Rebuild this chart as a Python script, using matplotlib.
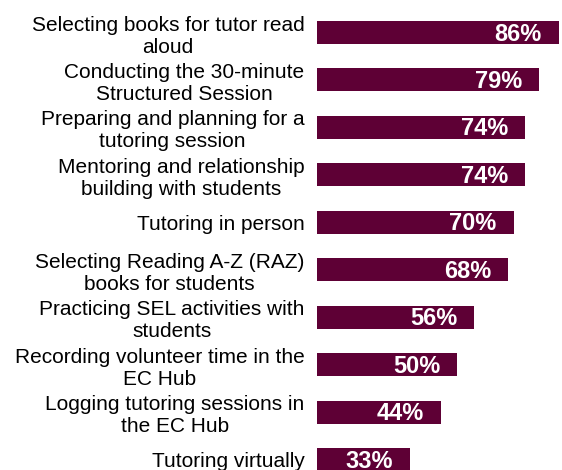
import matplotlib.pyplot as plt
from matplotlib.transforms import offset_copy

plt.rcParams['font.family'] = ['Liberation Sans', 'DejaVu Sans']

activities = [
    "Selecting books for tutor read\naloud",
    "Conducting the 30-minute\nStructured Session",
    "Preparing and planning for a\ntutoring session",
    "Mentoring and relationship\nbuilding with students",
    "Tutoring in person",
    "Selecting Reading A-Z (RAZ)\nbooks for students",
    "Practicing SEL activities with\nstudents",
    "Recording volunteer time in the\nEC Hub",
    "Logging tutoring sessions in\nthe EC Hub",
    "Tutoring virtually",
]
percents = [86, 79, 74, 74, 70, 68, 56, 50, 44, 33]

bar_color = '#5E0035'

fig = plt.figure(figsize=(5.62, 4.70), dpi=100)
ax = fig.add_axes([317 / 562, 0, 245 / 562, 1])

ypos = list(range(len(activities)))
bars = ax.barh(ypos, percents, height=0.485, color=bar_color)

ax.set_xlim(0, 87.2)
ax.set_ylim(9.22, -0.686)

ax.set_yticks(ypos)
ax.set_yticklabels(activities, fontsize=15, multialignment='center')
ax.tick_params(axis='y', length=0, pad=9)
ax.set_xticks([])
for s in ax.spines.values():
    s.set_visible(False)

# value labels sit just inside the end of each bar
for y, v in zip(ypos, percents):
    tr = offset_copy(ax.transData, fig=fig, x=-17, y=-1.5, units='dots')
    ax.text(v, y, f"{v}%", transform=tr, ha='right', va='center',
            color='white', fontsize=17, fontweight='bold')

fig.savefig('out.png', dpi=100)
